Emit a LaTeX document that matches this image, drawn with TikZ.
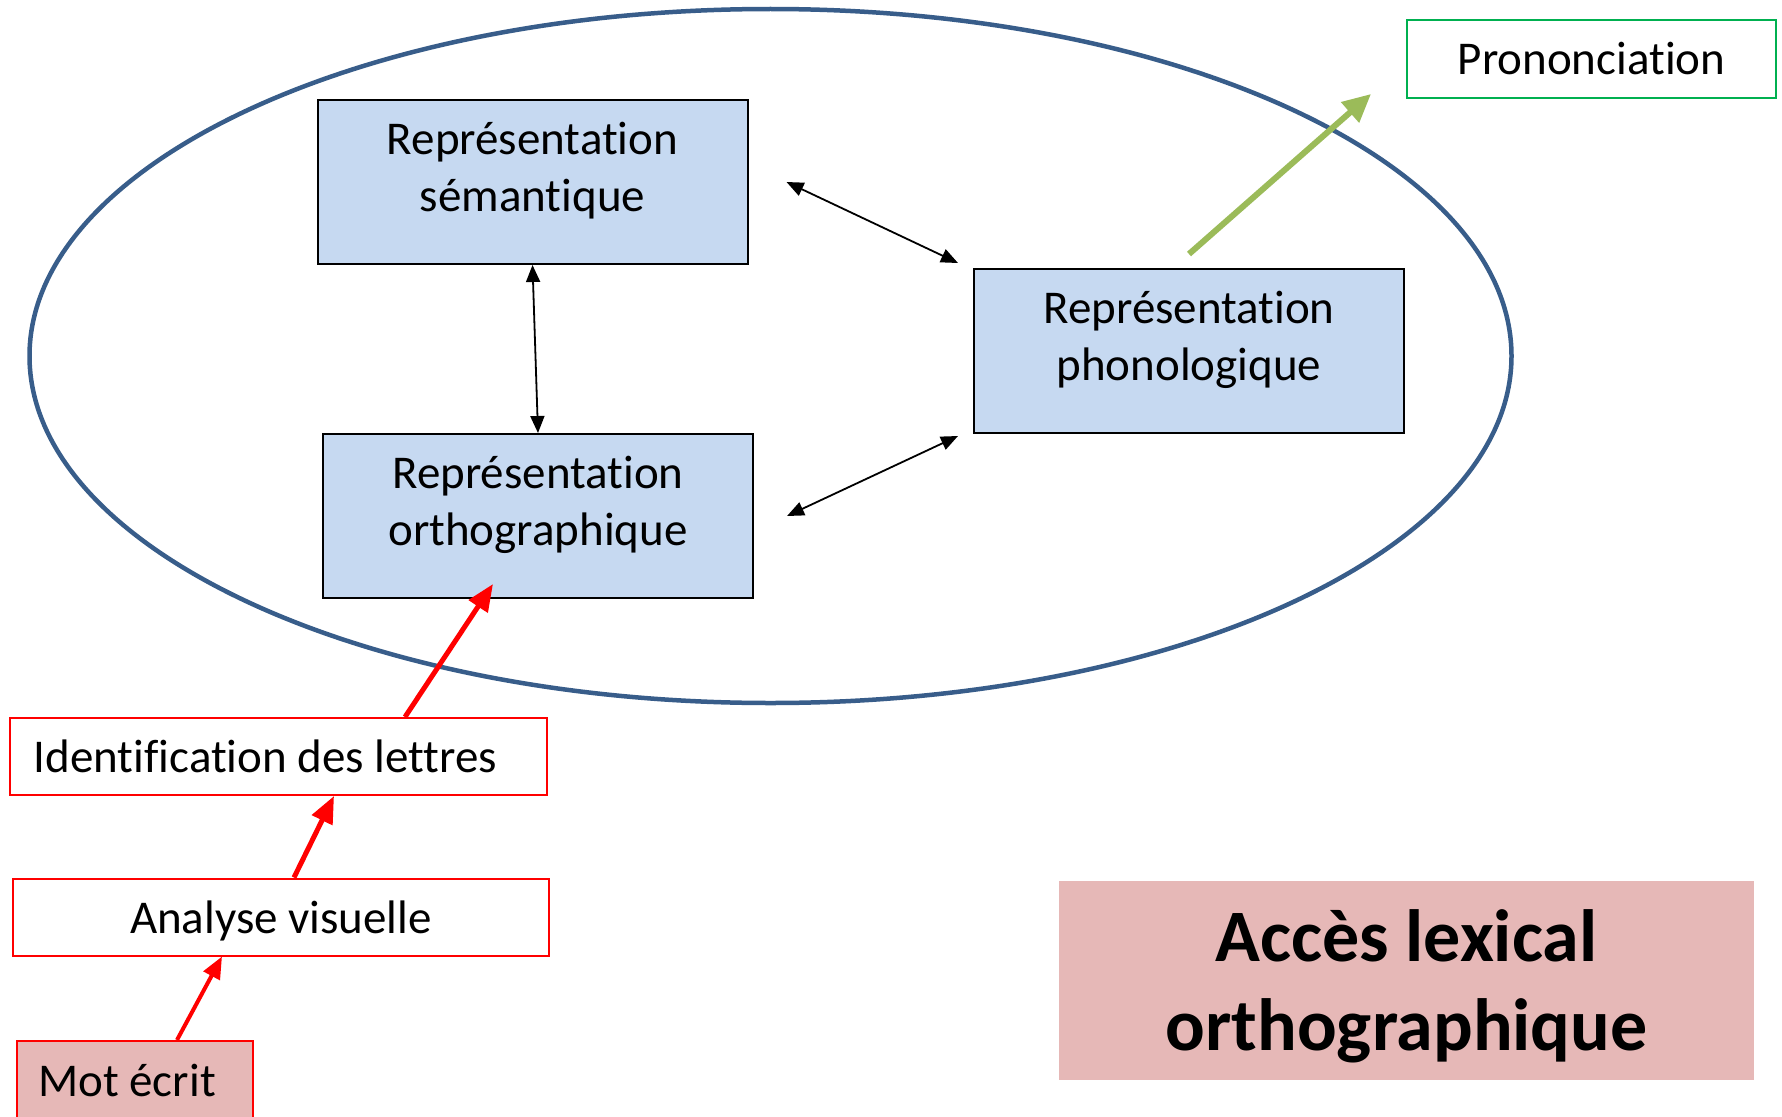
\documentclass[tikz,border=0pt]{standalone}
\usepackage{fontspec}
\setmainfont{Carlito}[Ligatures={NoCommon,NoContextual,NoRare},Contextuals=NoAlternate]
\usetikzlibrary{arrows.meta}
\definecolor{boxblue}{HTML}{C6D9F1}
\definecolor{ellblue}{HTML}{385D8A}
\definecolor{pinkfill}{HTML}{E6B8B7}
\definecolor{grnline}{HTML}{00B050}
\definecolor{grnarrow}{HTML}{9BBB59}
\begin{document}
\begin{tikzpicture}[x=1pt,y=-1pt,
  txt/.style={font=\fontsize{47}{57}\selectfont},
  reptext/.style={txt, align=center, inner sep=0pt, yshift=11pt},
  rep/.style={draw=black, line width=2pt, fill=boxblue, minimum width=430pt, minimum height=164pt, inner sep=0pt},
  redbox/.style={draw=red, line width=2pt, fill=white, minimum height=77pt, inner sep=0pt},
  blk/.style={line width=1.8pt, {Triangle[length=17pt,width=14pt]}-{Triangle[length=17pt,width=14pt]}},
  redarrow/.style={draw=red, line width=5pt, -{Triangle[length=27pt,width=22pt]}},
  redarrowthin/.style={draw=red, line width=4pt, -{Triangle[length=22pt,width=18pt]}},
  grnarrowstyle/.style={draw=grnarrow, line width=6pt, -{Triangle[length=28pt,width=26pt]}}
]
\useasboundingbox (0,0) rectangle (1782,1116);
\fill[white] (0,0) rectangle (1782,1116);

% ellipse
\draw[ellblue, line width=4.5pt] (770.5,356) ellipse [x radius=741pt, y radius=347pt];

% representation boxes
\node[rep, label={[reptext]center:{Représentation\\sémantique}}] (sem) at (532.5,182) {};
\node[rep, label={[reptext]center:{Représentation\\phonologique}}] (phon) at (1189,351) {};
\node[rep, label={[reptext]center:{Représentation\\orthographique}}] (orth) at (538,516) {};

% other boxes
\node[txt, draw=grnline, line width=2pt, minimum width=369pt, minimum height=78pt, inner sep=0pt] (pron) at (1591.5,59) {Prononciation};
\node[redbox, minimum width=537pt, label={[txt, inner sep=0pt, xshift=-13pt]center:Identification des lettres}] (ident) at (278.5,756.5) {};
\node[redbox, minimum width=536pt, label={[txt, inner sep=0pt, yshift=-4pt]center:Analyse visuelle}] (ana) at (281,917) {};
\node[draw=red, line width=2pt, fill=pinkfill, minimum width=236pt, minimum height=90pt, inner sep=0pt, label={[txt, inner sep=0pt, xshift=-8pt, yshift=6pt]center:Mot écrit}] (mot) at (135,1086) {};
\node[fill=pinkfill, minimum width=695pt, minimum height=199pt, inner sep=0pt, label={[align=center, inner sep=0pt, yshift=-6pt, font=\fontsize{74}{89}\selectfont\bfseries]center:{Accès lexical\\orthographique}}] (acces) at (1406.5,980.5) {};

% black double arrows
\draw[blk] ([xshift=38pt]sem.east) -- ([xshift=-15pt,yshift=5pt]phon.north west);
\draw[blk] ([xshift=33pt]orth.east) -- ([xshift=-15pt,yshift=-2pt]phon.south west);
\draw[blk] (sem.south) -- (orth.north);

% green arrow
\draw[grnarrowstyle] ([yshift=14pt]phon.north) -- ([xshift=-35pt,yshift=5pt]pron.south west);

% red arrows
\draw[redarrow] ([xshift=126.5pt]ident.north) -- ([xshift=-45pt,yshift=15pt]orth.south);
\draw[redarrow] ([xshift=13pt]ana.north) -- ([xshift=55.5pt]ident.south);
\draw[redarrowthin] ([xshift=42pt]mot.north) -- ([xshift=-59pt]ana.south);
\end{tikzpicture}
\end{document}
